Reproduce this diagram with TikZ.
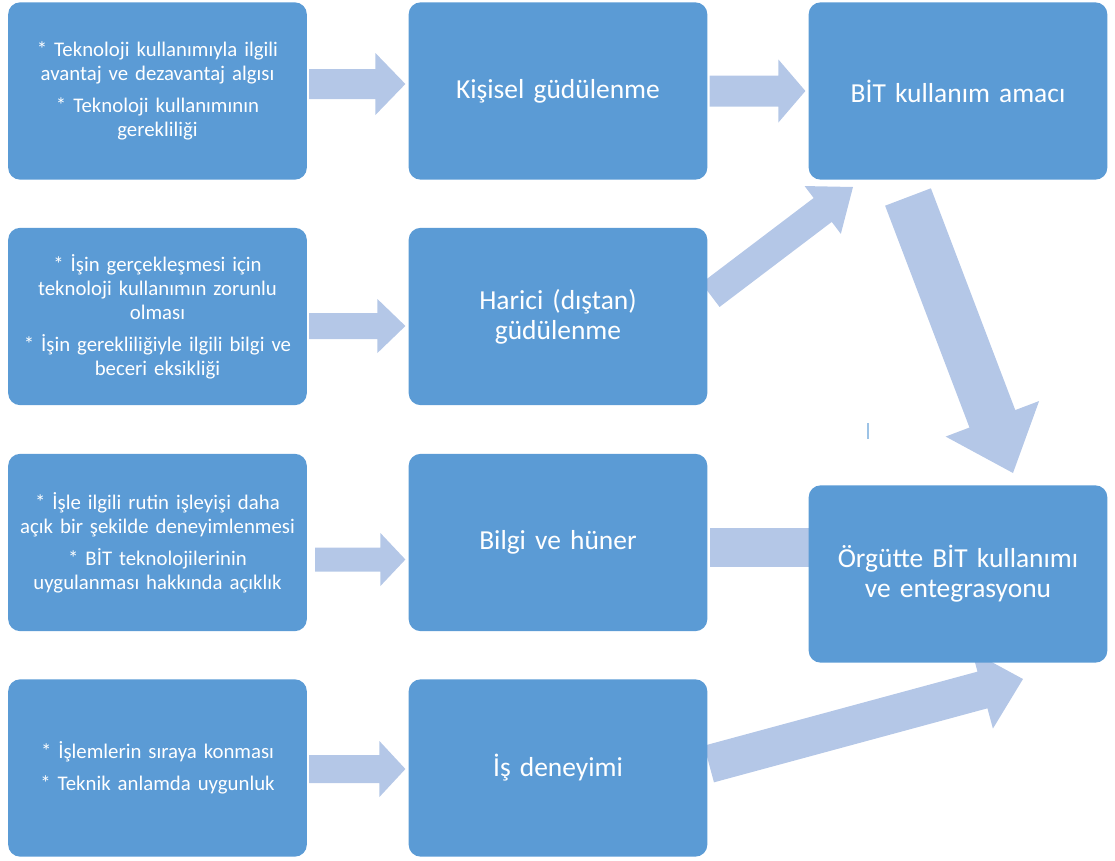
\documentclass[tikz,border=0pt]{standalone}
\usepackage{fontspec}
\setmainfont{Carlito}[WordSpace=0.85]
\usetikzlibrary{calc,positioning}

\definecolor{boxblue}{HTML}{5B9BD5}
\definecolor{arrowblue}{HTML}{B4C7E7}
\pgfdeclarelayer{back}
\pgfsetlayers{back,main}

% block arrow: start, tip, shaft half width, head half width, head length (px)
\newcommand{\blockarrow}[5]{%
    \coordinate (hb) at ($(#2)!#5*0.75pt!(#1)$);
    \fill[arrowblue] ($(#1)!#3*0.75pt!90:(#2)$) -- ($(hb)!#3*0.75pt!90:(#2)$)
        -- ($(hb)!#4*0.75pt!90:(#2)$) -- (#2) -- ($(hb)!#4*0.75pt!-90:(#2)$)
        -- ($(hb)!#3*0.75pt!-90:(#2)$) -- ($(#1)!#3*0.75pt!-90:(#2)$) -- cycle;
}

\begin{document}
\begin{tikzpicture}[x=0.75pt,y=-0.75pt,
    bluebox/.style={fill=boxblue, text=white, rounded corners=9pt, align=center,
        minimum width=224pt, minimum height=133pt, inner sep=0pt},
    small/.style={bluebox, font=\fontsize{15.6}{18}\selectfont, text width=216pt},
    big/.style={bluebox, font=\fontsize{20.6}{22.5}\selectfont, text width=212pt}]
    \useasboundingbox (0,0) rectangle (1115,861);

    \node[small] (k1) at (157.5,91) {* Teknoloji kullanımıyla ilgili\\avantaj ve dezavantaj algısı\\[6pt]* Teknoloji kullanımının\\gerekliliği};
    \node[small] (k2) at (157.5,316.5) {* İşin gerçekleşmesi için\\teknoloji kullanımın zorunlu\\olması\\[6pt]* İşin gerekliliğiyle ilgili bilgi ve\\beceri eksikliği};
    \node[small] (k3) at (157.5,542.5) {* İşle ilgili rutin işleyişi daha\\açık bir şekilde deneyimlenmesi\\[6pt]* BİT teknolojilerinin\\uygulanması hakkında açıklık};
    \node[small] (k4) at (157.5,768) {* İşlemlerin sıraya konması\\[6pt]* Teknik anlamda uygunluk};

    \node[big] (m1) at (558,91) {Kişisel güdülenme};
    \node[big] (m2) at (558,316.5) {Harici (dıştan)\\güdülenme};
    \node[big] (m3) at (558,542.5) {Bilgi ve hüner};
    \node[big] (m4) at (558,768) {İş deneyimi};

    \node[big] (amac) at (958,91) {BİT kullanım amacı};
    \node[big] (org) at (958,574) {Örgütte BİT kullanımı\\ve entegrasyonu};

    \coordinate (a1s) at ($(k1.east)+(2,-7)$);
    \coordinate (a1t) at ($(m1.west)+(-3,-7)$);
    \coordinate (a2s) at ($(k2.east)+(2,9.5)$);
    \coordinate (a2t) at ($(m2.west)+(-3,9.5)$);
    \coordinate (a3s) at ($(k3.east)+(8,17)$);
    \coordinate (a3t) at ($(m3.west)+(-3,17)$);
    \coordinate (a4s) at ($(k4.east)+(2,1)$);
    \coordinate (a4t) at ($(m4.west)+(-3,1)$);
    \coordinate (b1s) at ($(m1.east)+(2,0)$);
    \coordinate (b1t) at ($(amac.west)+(-3,0)$);
    \coordinate (b2s) at (710.5,295);
    \coordinate (b2t) at (853,187);
    \coordinate (b3s) at ($(m3.east)+(2,5)$);
    \coordinate (c1s) at (908,197);
    \coordinate (c1t) at (1013,473);
    \coordinate (b4s) at (709,764);
    \coordinate (b4t) at (1023,679);

    \begin{pgfonlayer}{back}
        \blockarrow{a1s}{a1t}{15}{31}{30}
        \blockarrow{a2s}{a2t}{13}{27}{28}
        \blockarrow{a3s}{a3t}{12}{26.5}{25}
        \blockarrow{a4s}{a4t}{14}{28}{26}
        \blockarrow{b1s}{b1t}{15.5}{31.5}{27}
        \blockarrow{b2s}{b2t}{15}{30}{38}
        \blockarrow{c1s}{c1t}{24.5}{50}{58}
        \blockarrow{b4s}{b4t}{19}{40}{42}
        \fill[arrowblue] ($(b3s)+(0,-19.5)$) rectangle ($(b3s)+(100,19.5)$);
    \end{pgfonlayer}

    \draw[boxblue!60, line width=0.8pt] (868,423) -- (868,439);
\end{tikzpicture}
\end{document}
